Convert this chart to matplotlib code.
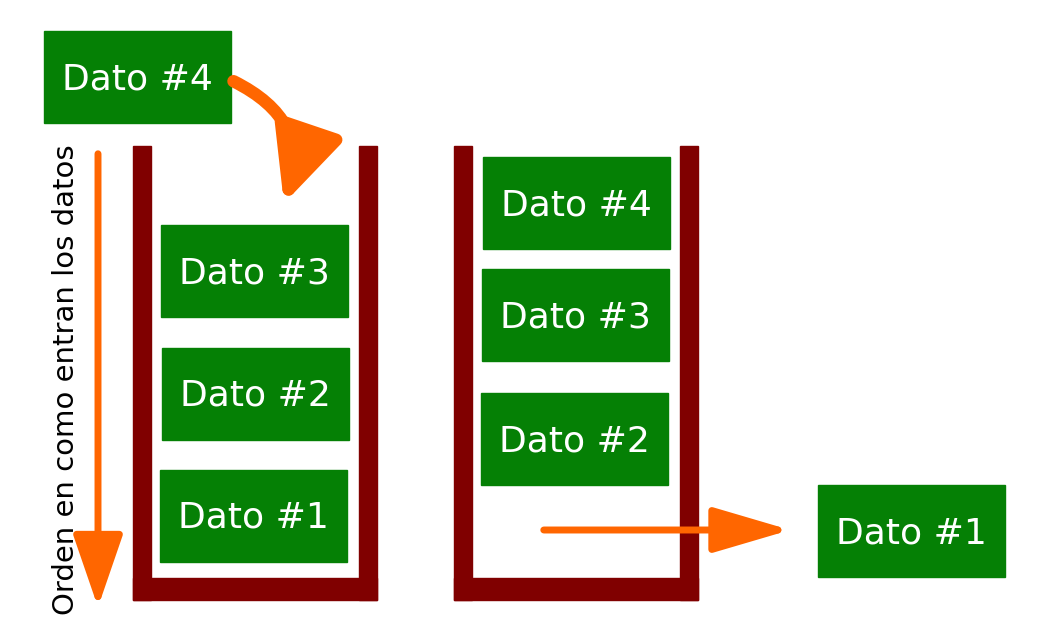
import matplotlib.pyplot as plt
from matplotlib.patches import Rectangle, FancyArrowPatch

W, H = 1047, 639
green = "#058005"
wall = "#800000"
orange = "#ff6600"

# box labels and their top-left corners (pixels)
labels = ["Dato #4", "Dato #3", "Dato #2", "Dato #1",
          "Dato #4", "Dato #3", "Dato #2", "Dato #1"]
box_x = [44, 161, 162, 160, 483, 482, 481, 818]
box_y = [31, 225, 348, 470, 157, 269, 393, 485]
box_w, box_h = 187, 92

# containers: left wall x, right wall x
cont_left = [133, 454]
cont_right = [359, 680]

fig = plt.figure(figsize=(W / 100, H / 100), dpi=100)
ax = fig.add_axes([0, 0, 1, 1])
ax.set_xlim(0, W)
ax.set_ylim(H, 0)
ax.axis("off")

for lx, rx in zip(cont_left, cont_right):
    ax.add_patch(Rectangle((lx, 146), 18, 454, color=wall))
    ax.add_patch(Rectangle((rx, 146), 18, 454, color=wall))
    ax.add_patch(Rectangle((lx, 578), rx + 18 - lx, 22, color=wall))

for lab, x, y in zip(labels, box_x, box_y):
    ax.add_patch(Rectangle((x, y), box_w, box_h, color=green))
    ax.text(x + box_w / 2, y + box_h / 2 + 2, lab, color="white", fontsize=26,
            ha="center", va="center")

# arrows
ax.add_patch(FancyArrowPatch((541, 530), (793, 530), arrowstyle="-|>,head_length=3.4,head_width=1.0",
                             mutation_scale=14, lw=5, color=orange))
ax.add_patch(FancyArrowPatch((98, 151), (98, 610), arrowstyle="-|>,head_length=3.2,head_width=1.1",
                             mutation_scale=14, lw=5, color=orange))
ax.add_patch(FancyArrowPatch((231, 80), (283, 206), connectionstyle="arc3,rad=-0.45",
                             arrowstyle="-|>,head_length=3.2,head_width=1.5",
                             mutation_scale=14, lw=9, color=orange))

ax.text(66, 380, "Orden en como entran los datos", rotation=90, fontsize=21,
        ha="center", va="center", family=["Liberation Sans Narrow", "DejaVu Sans"])

fig.savefig("out.png", dpi=100)
